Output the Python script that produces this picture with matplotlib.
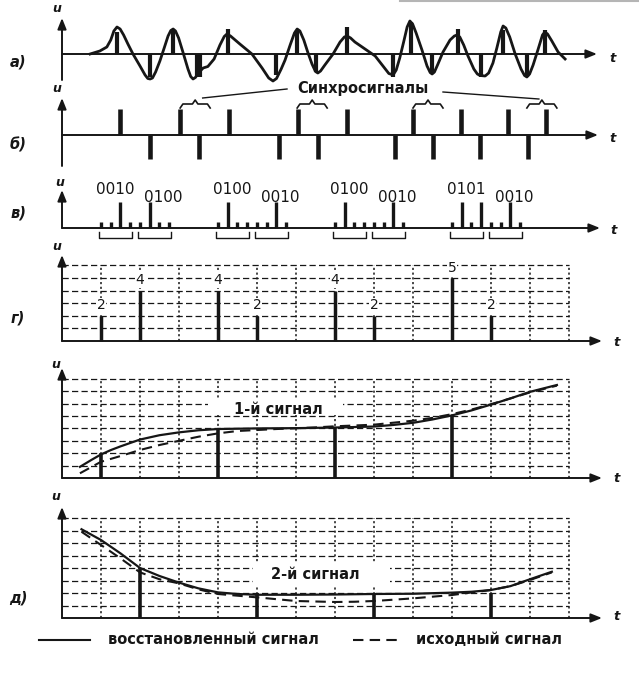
import matplotlib
matplotlib.use("Agg")
import matplotlib.pyplot as plt
from matplotlib.patches import Rectangle

# ---------------- data (time in grid columns) ----------------
# а) analog signal and its samples
wave_t = [0.72, 0.97, 1.15, 1.25, 1.33, 1.41, 1.49, 1.58, 1.69, 1.82,
          2.00, 2.13, 2.20, 2.26, 2.32, 2.40, 2.51, 2.62, 2.72, 2.79,
          2.85, 2.91, 2.99, 3.10, 3.23, 3.30, 3.36, 3.42, 3.52, 3.62,
          3.74, 3.90, 4.05, 4.16, 4.23, 4.32, 4.56, 4.87, 5.13, 5.30,
          5.41, 5.50, 5.62, 5.72, 5.85, 5.96, 6.03, 6.10, 6.20, 6.30,
          6.41, 6.50, 6.56, 6.63, 6.74, 6.95, 7.13, 7.24, 7.31, 7.40,
          7.51, 7.77, 8.03, 8.23, 8.38, 8.49, 8.57, 8.66, 8.76, 8.85,
          8.92, 8.99, 9.08, 9.23, 9.36, 9.44, 9.49, 9.55, 9.64, 9.77,
          9.95, 10.06, 10.13, 10.20, 10.30, 10.41, 10.56, 10.65, 10.72, 10.85,
          10.94, 11.05, 11.15, 11.25, 11.31, 11.38, 11.48, 11.62, 11.77, 11.86,
          11.92, 11.99, 12.08, 12.21, 12.32, 12.38, 12.45, 12.56, 12.72, 12.90]
wave_u = [0, 3, 7, 14, 23, 27, 25, 19, 10, 0,
          -12, -21, -24.5, -25, -24, -18, -7, 6, 18, 23.5,
          25, 23, 16, 2, -15, -22.5, -25, -23.5, -18, -14,
          -12.5, -5, 9, 17.5, 20, 18, 10, 0, -14, -24,
          -27, -24.5, -15, -6, 9, 21, 25, 23, 14, 2,
          -10, -17.5, -19, -17, -11, 0, 12, 17, 18, 16,
          12, 5, -2, -12, -19.5, -21, -16, -4, 12, 27,
          33, 30, 21, 4, -12, -18.5, -20, -18, -10, 2,
          14, 18, 19, 17, 9, -2, -15, -20, -21.5, -22,
          -19, -9, 6, 22, 28, 26, 17, 0, -15, -21.5,
          -23, -20, -11, 5, 19, 22, 20, 13, 2, -5]
pam_t = [1.41, 2.26, 2.85, 3.46, 3.54, 4.26, 5.49, 6.03, 6.51, 7.31, 8.49, 8.95,
         9.49, 10.15, 10.74, 11.31, 11.92, 12.38]
pam_u = [22, -23, 24, -23, -23, 25, -21, 24, -18, 27, -23, 32, -20, 25, -23, 24, -23, 24]

# б) interleaved pulses and synchro signals
pulse_t = [1.49, 2.26, 3.03, 3.51, 4.28, 5.56, 6.05, 6.56, 7.31, 8.54, 9.00, 9.51,
           10.23, 10.72, 11.44, 11.95, 12.41]
pulse_u = [26, -24, 26, -24, 26, -24, 26, -24, 26, -24, 26, -24, 26, -24, 26, -24, 26]
sync_t = [3.03, 6.03, 9.00, 11.92]
sync_label = "Синхросигналы"

# в) binary codes
codes = ["0010", "0100", "0100", "0010", "0100", "0010", "0101", "0010"]
code_cols = [1, 2, 4, 5, 7, 8, 10, 11]
bit_high, bit_low = 26, 6

# г) quantised levels
levels = [2, 4, 4, 2, 4, 2, 5, 2]
level_cols = [1, 2, 4, 5, 7, 8, 10, 11]

# signal 1
s1_cols = [1, 4, 7, 10]
s1_vals = [2, 4, 4, 5]
rec1_t = [0.46, 0.75, 1.0, 1.25, 1.5, 2.0, 2.5, 3.0, 3.5, 4.0, 5.0, 6.0, 7.0, 8.0, 8.5,
          9.0, 9.5, 10.0, 10.5, 11.0, 11.5, 12.0, 12.69]
rec1_u = [0.9, 1.45, 1.9, 2.25, 2.55, 3.1, 3.45, 3.68, 3.85, 3.95, 4.0, 4.02, 4.07, 4.15,
          4.28, 4.45, 4.72, 5.05, 5.45, 5.92, 6.42, 6.95, 7.5]
orig1_t = [0.46, 1.0, 1.5, 2.0, 2.5, 3.0, 3.5, 4.0, 4.5, 5.5, 6.5, 7.0, 8.0, 9.0, 9.5,
           10.0, 10.5, 11.0, 11.5, 12.0, 12.69]
orig1_u = [0.38, 1.31, 1.77, 2.26, 2.66, 3.0, 3.33, 3.6, 3.79, 3.95, 4.08, 4.17, 4.3, 4.62,
           4.85, 5.15, 5.52, 5.95, 6.42, 6.9, 7.45]

# signal 2
s2_cols = [2, 5, 8, 11]
s2_vals = [4, 2, 2, 2]
rec2_t = [0.5, 1.0, 1.5, 2.0, 2.5, 3.0, 3.5, 4.0, 4.5, 5.0, 6.0, 7.0, 8.0, 9.0, 10.0,
          10.5, 11.0, 11.5, 12.0, 12.56]
rec2_u = [7.1, 6.24, 5.17, 4.0, 3.36, 2.83, 2.37, 2.05, 1.92, 1.86, 1.86, 1.88, 1.92,
          1.94, 2.03, 2.1, 2.24, 2.55, 3.1, 3.7]
orig2_t = [0.5, 1.0, 1.5, 2.0, 2.5, 3.0, 3.5, 4.0, 5.0, 6.0, 7.0, 7.5, 8.0, 9.0, 10.0,
           11.0, 11.5, 12.0, 12.56]
orig2_u = [6.9, 5.84, 4.77, 3.65, 3.1, 2.77, 2.29, 1.92, 1.65, 1.36, 1.28, 1.3, 1.36,
           1.57, 1.84, 2.24, 2.55, 3.04, 3.65]

panel_labels = ["а)", "б)", "в)", "г)", "д)"]
legend_labels = ["восстановленный сигнал", "исходный сигнал"]
sig_labels = ["1-й сигнал", "2-й сигнал"]

# ---------------- layout ----------------
W, H, DPI = 639, 677, 100
X0, COL = 62.0, 39.0
NCOLS = 13
K = "#161616"
FONT = "DejaVu Sans"
DASH = (5, 3)

fig = plt.figure(figsize=(W / DPI, H / DPI), dpi=DPI)
fig.patch.set_facecolor("white")


def fx(x):
    return x / W


def fy(y):
    return 1 - y / H


def panel(top, bottom, base, unit):
    ax = fig.add_axes([0, fy(bottom), 1, (bottom - top) / H])
    ax.set_xlim(-X0 / COL, (W - X0) / COL)
    ax.set_ylim((base - bottom) / unit, (base - top) / unit)
    ax.axis("off")
    return ax


ARW = dict(arrowstyle="-|>,head_length=0.65,head_width=0.26", lw=1.4, color=K,
           shrinkA=0, shrinkB=0, mutation_scale=10)


def axes_arrows(ax, t_tip, u_low, u_tip):
    ax.annotate("", xy=(t_tip, 0), xytext=(0, 0), arrowprops=ARW, annotation_clip=False)
    ax.annotate("", xy=(0, u_tip), xytext=(0, u_low), arrowprops=ARW, annotation_clip=False)


def grid(ax, nrows):
    for r in range(1, nrows + 1):
        ax.plot([0, NCOLS], [r, r], color=K, lw=0.9, dashes=(5, 2.6), zorder=1)
    for c in range(1, NCOLS + 1):
        ax.plot([c, c], [0, nrows], color=K, lw=1.1, dashes=(1.4, 1.7), zorder=1)


def lab(x, y, s, size=10, **kw):
    fig.text(fx(x), fy(y), s, ha="center", va="center", fontsize=size,
             family=FONT, color=K, **kw)


# --- а)
axa = panel(0, 88, 54, 1.0)
axes_arrows(axa, (597 - X0) / COL, -26, 36)
axa.plot(wave_t, wave_u, color=K, lw=2.0, solid_joinstyle="round", zorder=3)
axa.vlines(pam_t, 0, pam_u, color=K, lw=3.0, zorder=2)

# --- б)
axb = panel(86, 170, 135, 1.0)
axes_arrows(axb, (598 - X0) / COL, -31, 37)
axb.vlines(pulse_t, 0, pulse_u, color=K, lw=3.3)
bw = 30 / COL
for s in sync_t:
    xm = s + bw / 2
    d = 0.07
    axb.plot([s, s + d, xm - d, xm, xm + d, s + bw - d, s + bw],
             [27, 31, 31, 35, 31, 31, 27], color=K, lw=1.2, clip_on=False)
lab(363, 88, sync_label, size=10.5, weight="bold")
axb.plot([(287 - X0) / COL, sync_t[0] + bw * 0.75], [46, 37], color=K, lw=1.0, clip_on=False)
axb.plot([(443 - X0) / COL, sync_t[-1] + bw * 0.4], [43, 36], color=K, lw=1.0, clip_on=False)

# --- в)
axc = panel(175, 245, 228, 1.0)
axes_arrows(axc, (600 - X0) / COL, 0, 38)
for i, (code, c) in enumerate(zip(codes, code_cols)):
    xs = [c + k * 0.25 for k in range(len(code))]
    hs = [bit_high if b == "1" else bit_low for b in code]
    axc.vlines(xs, 0, hs, color=K, lw=2.4)
    off = 0.0 if i % 2 == 0 else 0.22
    ly = 39 if i % 2 == 0 else 31
    axc.text(c + 0.375 + off, ly, code, ha="center", va="center", fontsize=11,
             family=FONT, color=K)
    x0b, x1b = c - 0.04, c + 0.79
    axc.plot([x0b, x0b, x1b, x1b], [-4, -10, -10, -4], color=K, lw=1.0)

# --- г)
axd = panel(240, 350, 341, 12.6)
grid(axd, 6)
axes_arrows(axd, (602 - X0) / COL, 0, (341 - 255) / 12.6)
axd.vlines(level_cols, 0, levels, color=K, lw=2.5, zorder=2)
for c, v in zip(level_cols, levels):
    axd.annotate(str(v), (c, v), xytext=(0, 2.5), textcoords="offset points",
                 ha="center", va="bottom", fontsize=10, family=FONT, color=K,
                 bbox=dict(boxstyle="square,pad=0.05", fc="white", ec="none"), zorder=4)

# --- signal 1
axe = panel(352, 488, 478, 12.4)
grid(axe, 8)
axes_arrows(axe, (602 - X0) / COL, 0, (478 - 368) / 12.4)
axe.add_patch(Rectangle((3.75, 5.08), 3.45, 1.25, fc="white", ec="none", zorder=1.5))
axe.text(5.55, 5.5, sig_labels[0], ha="center", va="center", fontsize=10.5,
         weight="bold", family=FONT, color=K, zorder=4)
axe.vlines(s1_cols, 0, s1_vals, color=K, lw=2.6, zorder=2)
axe.plot(rec1_t, rec1_u, color=K, lw=1.6, zorder=3)
axe.plot(orig1_t, orig1_u, color=K, lw=1.5, dashes=DASH, zorder=3)

# --- д) signal 2
axf = panel(490, 628, 618, 12.5)
grid(axf, 8)
axes_arrows(axf, (602 - X0) / COL, 0, (618 - 507) / 12.5)
axf.add_patch(Rectangle((4.9, 2.45), 3.5, 2.0, fc="white", ec="none", zorder=1.5))
axf.text(6.5, 3.5, sig_labels[1], ha="center", va="center", fontsize=10.5,
         weight="bold", family=FONT, color=K, zorder=4)
axf.vlines(s2_cols, 0, s2_vals, color=K, lw=2.6, zorder=2)
axf.plot(rec2_t, rec2_u, color=K, lw=1.6, zorder=3)
axf.plot(orig2_t, orig2_u, color=K, lw=1.5, dashes=DASH, zorder=3)

# --- panel letters, u / t labels
for s, y in zip(panel_labels, [62, 145, 213, 318, 598]):
    lab(18, y, s, size=10.5, weight="bold", style="italic")
for x, y in [(57, 9), (57, 89), (60, 183), (57, 246), (56, 364), (56, 497)]:
    lab(x, y, "u", size=9, weight="bold", style="italic")
for x, y in [(613, 59), (613, 138), (614, 230), (617, 342), (617, 478), (617, 617)]:
    lab(x, y, "t", size=9.5, weight="bold", style="italic")

# --- legend
fig.add_artist(plt.Line2D([fx(39), fx(90)], [fy(640), fy(640)], color=K, lw=1.5))
fig.text(fx(108), fy(640), legend_labels[0], ha="left", va="center", fontsize=10.5,
         weight="bold", family=FONT, color=K)
fig.add_artist(plt.Line2D([fx(353), fx(398)], [fy(640), fy(640)], color=K, lw=1.5,
                          dashes=DASH))
fig.text(fx(416), fy(640), legend_labels[1], ha="left", va="center", fontsize=10.5,
         weight="bold", family=FONT, color=K)

# scan border at the top right
fig.add_artist(plt.Line2D([fx(400), fx(639)], [fy(1), fy(1)], color="#b5b5b5", lw=1.5))

fig.savefig("out.png", dpi=DPI, facecolor="white")
